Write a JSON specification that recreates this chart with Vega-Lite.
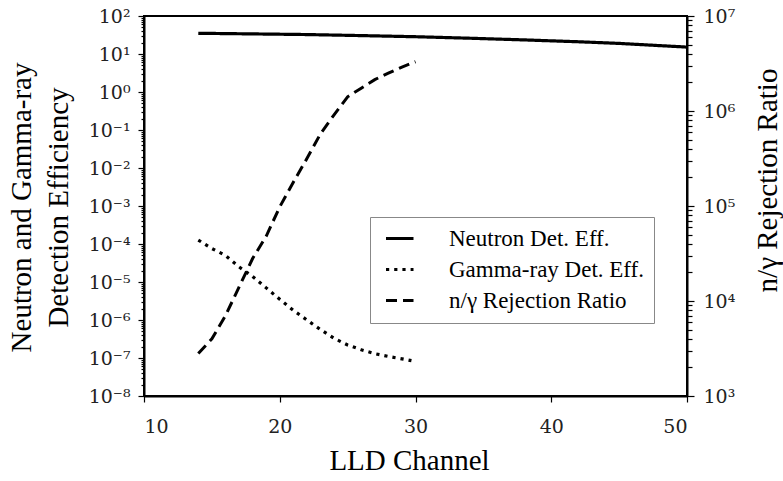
{
  "$schema": "https://vega.github.io/schema/vega-lite/v6.json",
  "width": 543,
  "height": 380,
  "autosize": {"type": "none"},
  "padding": {"left": 144, "top": 16, "right": 96, "bottom": 85},
  "background": "white",
  "config": {
    "view": {"stroke": "#000", "strokeWidth": 2},
    "axis": {
      "grid": false,
      "domainColor": "#000",
      "domainWidth": 2,
      "tickColor": "#000",
      "tickWidth": 1.2,
      "labelColor": "#222",
      "labelFont": "'DejaVu Serif', serif",
      "labelFontSize": 19,
      "titleColor": "#000",
      "titleFont": "Liberation Serif",
      "titleFontWeight": "normal",
      "titleFontSize": 29
    }
  },
  "data": {
    "values": [
      {"ch": 14, "series": "Neutron Det. Eff.", "v": 35.1},
      {"ch": 18, "series": "Neutron Det. Eff.", "v": 33.8},
      {"ch": 22, "series": "Neutron Det. Eff.", "v": 32.5},
      {"ch": 26, "series": "Neutron Det. Eff.", "v": 30.5},
      {"ch": 30, "series": "Neutron Det. Eff.", "v": 28.5},
      {"ch": 34, "series": "Neutron Det. Eff.", "v": 26},
      {"ch": 38, "series": "Neutron Det. Eff.", "v": 23.5},
      {"ch": 40, "series": "Neutron Det. Eff.", "v": 22.2},
      {"ch": 42, "series": "Neutron Det. Eff.", "v": 21},
      {"ch": 45, "series": "Neutron Det. Eff.", "v": 19},
      {"ch": 48, "series": "Neutron Det. Eff.", "v": 16.6},
      {"ch": 50, "series": "Neutron Det. Eff.", "v": 15.2},
      {"ch": 14, "series": "Gamma-ray Det. Eff.", "v": 1.27e-4},
      {"ch": 15, "series": "Gamma-ray Det. Eff.", "v": 7.6e-5},
      {"ch": 16, "series": "Gamma-ray Det. Eff.", "v": 5e-5},
      {"ch": 17, "series": "Gamma-ray Det. Eff.", "v": 2.5e-5},
      {"ch": 18, "series": "Gamma-ray Det. Eff.", "v": 1.4e-5},
      {"ch": 19, "series": "Gamma-ray Det. Eff.", "v": 7e-6},
      {"ch": 20, "series": "Gamma-ray Det. Eff.", "v": 3.5e-6},
      {"ch": 21, "series": "Gamma-ray Det. Eff.", "v": 1.8e-6},
      {"ch": 22, "series": "Gamma-ray Det. Eff.", "v": 1e-6},
      {"ch": 23, "series": "Gamma-ray Det. Eff.", "v": 5.6e-7},
      {"ch": 24, "series": "Gamma-ray Det. Eff.", "v": 3.3e-7},
      {"ch": 25, "series": "Gamma-ray Det. Eff.", "v": 2.2e-7},
      {"ch": 26, "series": "Gamma-ray Det. Eff.", "v": 1.65e-7},
      {"ch": 27, "series": "Gamma-ray Det. Eff.", "v": 1.3e-7},
      {"ch": 28, "series": "Gamma-ray Det. Eff.", "v": 1.1e-7},
      {"ch": 29, "series": "Gamma-ray Det. Eff.", "v": 9.5e-8},
      {"ch": 29.7, "series": "Gamma-ray Det. Eff.", "v": 8.5e-8},
      {"ch": 14, "series": "n/γ  Rejection Ratio", "v": 2800},
      {"ch": 15, "series": "n/γ  Rejection Ratio", "v": 4000},
      {"ch": 16, "series": "n/γ  Rejection Ratio", "v": 7000},
      {"ch": 17, "series": "n/γ  Rejection Ratio", "v": 14000},
      {"ch": 18, "series": "n/γ  Rejection Ratio", "v": 28000},
      {"ch": 19, "series": "n/γ  Rejection Ratio", "v": 48000},
      {"ch": 20, "series": "n/γ  Rejection Ratio", "v": 98000},
      {"ch": 21, "series": "n/γ  Rejection Ratio", "v": 178000},
      {"ch": 22, "series": "n/γ  Rejection Ratio", "v": 316000},
      {"ch": 23, "series": "n/γ  Rejection Ratio", "v": 575000},
      {"ch": 24, "series": "n/γ  Rejection Ratio", "v": 912000},
      {"ch": 25, "series": "n/γ  Rejection Ratio", "v": 1410000},
      {"ch": 26, "series": "n/γ  Rejection Ratio", "v": 1740000},
      {"ch": 27, "series": "n/γ  Rejection Ratio", "v": 2140000},
      {"ch": 28, "series": "n/γ  Rejection Ratio", "v": 2500000},
      {"ch": 29, "series": "n/γ  Rejection Ratio", "v": 2900000},
      {"ch": 30, "series": "n/γ  Rejection Ratio", "v": 3300000}
    ]
  },
  "layer": [
    {
      "transform": [{"filter": "datum.series !== 'n/γ  Rejection Ratio'"}],
      "mark": {"type": "line", "strokeWidth": 3.2, "color": "#000"},
      "encoding": {
        "x": {
          "field": "ch", "type": "quantitative",
          "scale": {"domain": [10, 50]},
          "axis": {
            "values": [10, 20, 30, 40, 50],
            "tickSize": 6,
            "labelPadding": 15,
            "title": "LLD Channel",
            "titleX": 265,
            "titleY": 64,
            "titleBaseline": "middle",
            "titleAlign": "center"
          }
        },
        "y": {
          "field": "v", "type": "quantitative",
          "scale": {"type": "log", "domain": [1e-8, 100]},
          "axis": {
            "orient": "left",
            "values": [1e-8,2e-8,3e-8,4e-8,5e-8,6e-8,7e-8,8e-8,9e-8,1e-7,2e-7,3e-7,4e-7,5e-7,6e-7,7e-7,8e-7,9e-7,1e-6,2e-6,3e-6,4e-6,5e-6,6e-6,7e-6,8e-6,9e-6,1e-5,2e-5,3e-5,4e-5,5e-5,6e-5,7e-5,8e-5,9e-5,1e-4,2e-4,3e-4,4e-4,5e-4,6e-4,7e-4,8e-4,9e-4,1e-3,2e-3,3e-3,4e-3,5e-3,6e-3,7e-3,8e-3,9e-3,1e-2,2e-2,3e-2,4e-2,5e-2,6e-2,7e-2,8e-2,9e-2,0.1,0.2,0.3,0.4,0.5,0.6,0.7,0.8,0.9,1,2,3,4,5,6,7,8,9,10,20,30,40,50,60,70,80,90,100],
            "labelExpr": "abs(log(datum.value)/LN10 - round(log(datum.value)/LN10)) < 0.001 ? ['10⁻⁸','10⁻⁷','10⁻⁶','10⁻⁵','10⁻⁴','10⁻³','10⁻²','10⁻¹','10⁰','10¹','10²'][round(log(datum.value)/LN10)+8] : ''",
            "tickSize": {"condition": {"test": "abs(log(datum.value)/LN10 - round(log(datum.value)/LN10)) < 0.001", "value": 6}, "value": 3},
            "labelOverlap": false,
            "labelBound": false,
            "labelFlush": false,
            "labelPadding": 8,
            "title": ["Neutron and Gamma-ray", "Detection Efficiency"],
            "titleAngle": 270,
            "titleX": -123,
            "titleY": 191,
            "titleAlign": "center",
            "titleBaseline": "middle",
            "titleLineHeight": 37
          }
        },
        "strokeDash": {
          "field": "series", "type": "nominal",
          "scale": {
            "domain": ["Neutron Det. Eff.", "Gamma-ray Det. Eff.", "n/γ  Rejection Ratio"],
            "range": [[1, 0], [3.2, 5], [11, 6]]
          },
          "legend": {
            "title": null,
            "orient": "none",
            "legendX": 226,
            "legendY": 201,
            "direction": "vertical",
            "strokeColor": "#888",
            "fillColor": "white",
            "padding": 10,
            "symbolType": "M-1,0H4",
            "symbolSize": 121,
            "symbolStrokeWidth": 3,
            "symbolStrokeColor": "#000",
            "symbolFillColor": "transparent",
            "labelFont": "Liberation Serif",
            "labelFontSize": 23,
            "labelColor": "#000",
            "labelOffset": 46,
            "labelLimit": 400,
            "rowPadding": 7
          }
        }
      }
    },
    {
      "transform": [{"filter": "datum.series === 'n/γ  Rejection Ratio'"}],
      "mark": {"type": "line", "strokeWidth": 3, "color": "#000"},
      "encoding": {
        "x": {"field": "ch", "type": "quantitative", "scale": {"domain": [10, 50]}},
        "y": {
          "field": "v", "type": "quantitative",
          "scale": {"type": "log", "domain": [1000, 10000000]},
          "axis": {
            "orient": "right",
            "values": [1000,2000,3000,4000,5000,6000,7000,8000,9000,10000,20000,30000,40000,50000,60000,70000,80000,90000,100000,200000,300000,400000,500000,600000,700000,800000,900000,1000000,2000000,3000000,4000000,5000000,6000000,7000000,8000000,9000000,10000000],
            "labelExpr": "abs(log(datum.value)/LN10 - round(log(datum.value)/LN10)) < 0.001 ? ['10³','10⁴','10⁵','10⁶','10⁷'][round(log(datum.value)/LN10)-3] : ''",
            "tickSize": {"condition": {"test": "abs(log(datum.value)/LN10 - round(log(datum.value)/LN10)) < 0.001", "value": 7}, "value": 5},
            "labelOverlap": false,
            "labelBound": false,
            "labelFlush": false,
            "labelPadding": 9,
            "title": "n/γ Rejection Ratio",
            "titleAngle": 270,
            "titleX": 80,
            "titleY": 164,
            "titleAlign": "center",
            "titleBaseline": "middle"
          }
        },
        "strokeDash": {"field": "series", "type": "nominal"}
      }
    }
  ],
  "resolve": {"scale": {"y": "independent"}}
}
